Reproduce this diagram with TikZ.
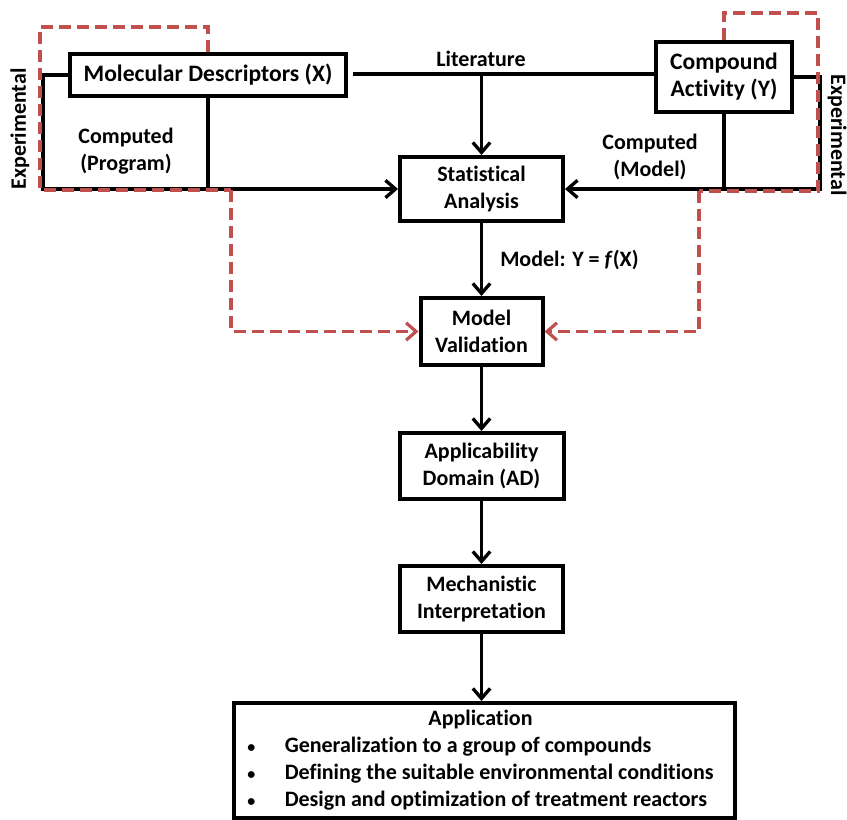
\documentclass[tikz,border=0pt]{standalone}
\usepackage{fontspec}
\setmainfont{Carlito}[Ligatures=NoCommon]
\usetikzlibrary{arrows.meta}
\definecolor{dashred}{HTML}{C0504D}
\newcommand{\smbul}{{\fontsize{12}{12}\selectfont\textbullet}}
\begin{document}
\begin{tikzpicture}[x=0.75pt,y=-0.75pt,
  every node/.style={font=\fontsize{16.5}{20.25}\selectfont\bfseries, align=center},
  bigtext/.style={font=\fontsize{17.7}{20.25}\selectfont\bfseries},
  box/.style={draw, line width=3pt, fill=white, inner sep=0pt},
  thinbox/.style={draw, line width=2.5pt, fill=white, inner sep=0pt},
  conn/.style={line width=2.5pt},
  arr/.style={conn, -{Straight Barb[length=7.5pt,width=13pt,line width=2.5pt]}},
  red/.style={draw=dashred, line width=2.4pt, dash pattern=on 9pt off 4.5pt},
  redarr/.style={red, -{Straight Barb[length=7.5pt,width=13pt,line width=2.4pt]}},
  lbl/.style={inner sep=0pt}
]
\useasboundingbox (0,0) rectangle (847,820);

% boxes
\node[thinbox, bigtext, minimum width=207pt, minimum height=31.5pt] (MD) at (208,75) {Molecular Descriptors (X)};
\node[thinbox, bigtext, minimum width=102pt, minimum height=52.5pt] (CA) at (724,77) {Compound\\Activity (Y)};
\node[box, minimum width=122.25pt, minimum height=48pt] (SA) at (481.5,189) {Statistical\\Analysis};
\node[box, minimum width=91.5pt, minimum height=50.25pt] (MV) at (481.5,331.5) {Model\\Validation};
\node[box, minimum width=123pt, minimum height=49.5pt] (AD) at (481.5,466) {Applicability\\Domain (AD)};
\node[box, minimum width=122.25pt, minimum height=49.5pt] (MI) at (481.5,599) {Mechanistic\\Interpretation};
\node[box, minimum width=375.75pt, minimum height=86.25pt] (AP) at (484.5,760.5)
  {\begin{tabular}{@{}l@{\hspace{22pt}}l@{}}
   \multicolumn{2}{c}{Application\hspace{6pt}}\\
   \smbul & Generalization to a group of compounds\\
   \smbul & Defining the suitable environmental conditions\\
   \smbul & Design and optimization of treatment reactors
   \end{tabular}\hspace{6pt}};

% coordinates
\coordinate (L1) at (43,75);
\coordinate (L2) at (43,189);
\coordinate (L3) at (208,189);
\coordinate (R1) at (820,77);
\coordinate (R2) at (820,189);
\coordinate (R3) at (724,189);
\coordinate (T0) at (353,74);
\coordinate (lit) at (481.5,74);

% dashed red paths
\coordinate (a1) at (208,27);
\coordinate (a2) at (40,27);
\coordinate (a3) at (40,190);
\coordinate (a4) at (231,190);
\coordinate (a5) at (231,331.5);
\coordinate (b1) at (724,13);
\coordinate (b2) at (818,13);
\coordinate (b3) at (818,191);
\coordinate (b4) at (699,191);
\coordinate (b5) at (699,331.5);

% black connectors
\draw[arr] (MD.west) -- (L1) -- (L2) -- (SA.west);
\draw[conn] (MD.south) -- (L3);
\draw[conn] (T0) -- (CA.west |- T0);
\draw[arr] (lit) -- (SA.north);
\draw[arr] (CA.east) -- (R1) -- (R2) -- (SA.east);
\draw[conn] (CA.south) -- (R3);
\draw[arr] (SA.south) -- (MV.north);
\draw[arr] (MV.south) -- (AD.north);
\draw[arr] (AD.south) -- (MI.north);
\draw[arr] (MI.south) -- (MI.south |- AP.north);

% red dashed connectors
\draw[red] (MD.north) -- (a1) -- (a2) -- (a3) -- (a4);
\draw[redarr] (a4) -- (a5) -- (MV.west);
\draw[red] (CA.north) -- (b1) -- (b2) -- (b3) -- (b4);
\draw[redarr] (b4) -- (b5) -- (MV.east);

% labels
\node[lbl] (litlbl) at (481,59) {Literature};
\node[lbl] (cp) at (126,151) {Computed\\(Program)};
\node[lbl] (cm) at (650,157) {Computed\\(Model)};
\node[lbl, rotate=90] (expL) at (20,129) {Experimental};
\node[lbl, rotate=-90] (expR) at (837,135) {Experimental};
\node[lbl, anchor=west] (mdl) at (500,260) {Model: Y = \textit{f}(X)};
\end{tikzpicture}
\end{document}
